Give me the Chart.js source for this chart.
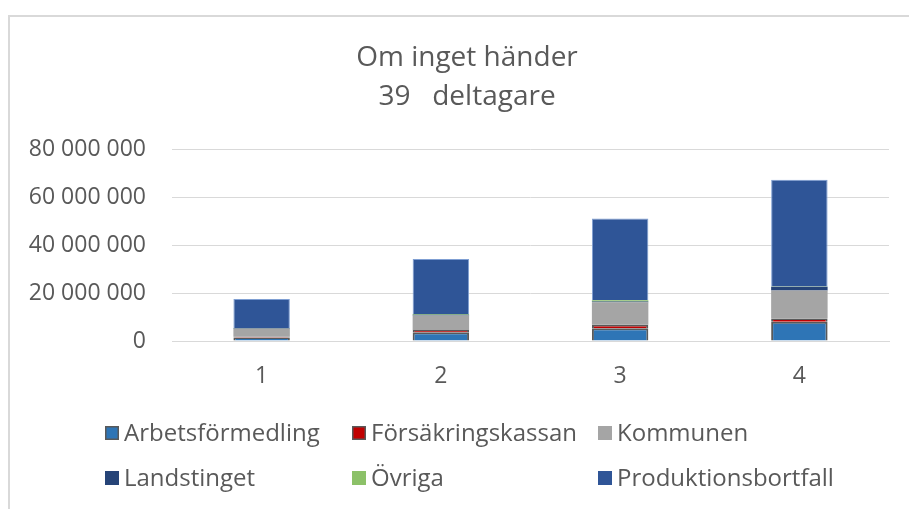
<!DOCTYPE html>
<html>
<head>
<meta charset="utf-8">
<script src="https://cdn.jsdelivr.net/npm/chart.js@4"></script>
<style>
  html, body { margin: 0; padding: 0; background: #fff; }
  #wrap { width: 909px; height: 509px; position: relative; }
</style>
</head>
<body>
<div id="wrap"><canvas id="chart" width="909" height="509"></canvas></div>
<script>
// categories (years) and cost per actor
const categories = ['1', '2', '3', '4'];
const arbetsformedling = [1500000, 3600000, 5300000, 8000000];
const forsakringskassan = [300000, 1000000, 1500000, 1400000];
const kommunen = [3350000, 6000000, 9300000, 11600000];
const landstinget = [200000, 300000, 400000, 1600000];
const ovriga = [100000, 300000, 500000, 100000];
const produktionsbortfall = [12000000, 23000000, 34000000, 44500000];
const yTicks = [0, 20000000, 40000000, 60000000, 80000000];
const titleLines = ['Om inget händer', '39   deltagare'];

const textColor = '#595959';
const gridColor = '#d9d9d9';
const fontFamily = "'Open Sans', 'Liberation Sans', sans-serif";

function fmt(v) {
    return String(v).replace(/\B(?=(\d{3})+(?!\d))/g, ' ');
}

// light frame on the left and top, like the pasted Excel chart
const framePlugin = {
    id: 'frame',
    beforeDraw(chart) {
        const ctx = chart.ctx;
        ctx.save();
        ctx.fillStyle = '#fff';
        ctx.fillRect(0, 0, chart.width, chart.height);
        ctx.strokeStyle = gridColor;
        ctx.lineWidth = 2;
        ctx.beginPath();
        ctx.moveTo(9, chart.height);
        ctx.lineTo(9, 16);
        ctx.lineTo(chart.width, 16);
        ctx.stroke();
        ctx.restore();
    }
};

// two line title, centred like the original (not on the plot area)
const titlePlugin = {
    id: 'excelTitle',
    afterDraw(chart) {
        const ctx = chart.ctx;
        ctx.save();
        ctx.font = '28px ' + fontFamily;
        ctx.fillStyle = textColor;
        ctx.textAlign = 'center';
        ctx.textBaseline = 'middle';
        ctx.fillText(titleLines[0], 467, 58);
        ctx.fillText(titleLines[1], 467, 97);
        ctx.restore();
    }
};

// legend in three fixed columns
const gridLegend = {
    id: 'gridLegend',
    afterDraw(chart) {
        const ctx = chart.ctx;
        const cols = [105, 352, 598];
        const rows = [433, 478];
        ctx.save();
        ctx.font = '24px ' + fontFamily;
        ctx.textBaseline = 'middle';
        chart.data.datasets.forEach((ds, i) => {
            const x = cols[i % 3];
            const y = rows[Math.floor(i / 3)];
            ctx.fillStyle = ds.backgroundColor;
            ctx.fillRect(x, y - 7, 14, 14);
            if (ds.borderWidth > 1) {
                ctx.strokeStyle = ds.borderColor;
                ctx.lineWidth = 1.5;
                ctx.strokeRect(x + 0.75, y - 6.25, 12.5, 12.5);
            }
            ctx.fillStyle = textColor;
            ctx.fillText(ds.label, x + 19, y + 1);
        });
        ctx.restore();
    }
};

new Chart(document.getElementById('chart'), {
    type: 'bar',
    data: {
        labels: categories,
        datasets: [
            { label: 'Arbetsförmedling', data: arbetsformedling, backgroundColor: '#2e75b6', borderColor: '#595959', borderWidth: 2 },
            { label: 'Försäkringskassan', data: forsakringskassan, backgroundColor: '#c00000', borderColor: '#595959', borderWidth: 2 },
            { label: 'Kommunen', data: kommunen, backgroundColor: '#a5a5a5', borderWidth: 0 },
            { label: 'Landstinget', data: landstinget, backgroundColor: '#264478', borderWidth: 0 },
            { label: 'Övriga', data: ovriga, backgroundColor: '#8cc168', borderWidth: 0 },
            { label: 'Produktionsbortfall', data: produktionsbortfall, backgroundColor: '#2f5597', borderColor: '#7f9fd3', borderWidth: 1 }
        ]
    },
    options: {
        responsive: false,
        animation: false,
        layout: { padding: { left: 10, right: 20, top: 149, bottom: 0 } },
        datasets: { bar: { categoryPercentage: 1, barPercentage: 0.315 } },
        plugins: {
            legend: { display: false },
            tooltip: { enabled: false },
            title: { display: false }
        },
        scales: {
            x: {
                stacked: true,
                grid: { display: false, drawTicks: false },
                border: { color: gridColor, width: 1 },
                ticks: { color: textColor, font: { family: fontFamily, size: 23 }, padding: 22 },
                afterFit(scale) { scale.height = 168; }
            },
            y: {
                stacked: true,
                min: 0,
                max: 80000000,
                afterBuildTicks(scale) { scale.ticks = yTicks.map(v => ({ value: v })); },
                grid: { color: gridColor, lineWidth: 1, drawTicks: false },
                border: { display: false },
                ticks: {
                    color: textColor,
                    font: { family: fontFamily, size: 23 },
                    padding: 26,
                    callback: v => fmt(v)
                },
                afterFit(scale) { scale.width = 162; }
            }
        }
    },
    plugins: [framePlugin, titlePlugin, gridLegend]
});
</script>
</body>
</html>
